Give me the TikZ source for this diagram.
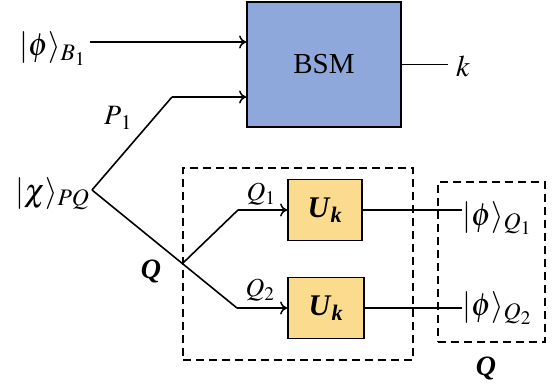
\documentclass[tikz,border=0pt]{standalone}
\usepackage{mathptmx}
\usepackage{fontspec}
\setmainfont{Liberation Serif}
\usetikzlibrary{arrows.meta}
\definecolor{bsmblue}{HTML}{8FA8DC}
\definecolor{ukyellow}{HTML}{FBDC8E}
\newcommand{\bi}[1]{\textbf{\textit{#1}}}
\begin{document}
\begin{tikzpicture}[x=1pt,y=-1pt,
  wire/.style={line width=1.6pt},
  arr/.style={wire,-{To[length=7pt,width=13pt,line width=1.5pt]}},
  box/.style={draw,line width=1.8pt,inner sep=0pt},
  dbox/.style={draw,line width=1.7pt,dash pattern=on 8pt off 5pt},
  lbl/.style={font=\fontsize{32}{36}\selectfont,inner sep=0pt},
  slbl/.style={font=\fontsize{28}{30}\selectfont,inner sep=0pt}]
\useasboundingbox (0,0) rectangle (559,390);
% BSM
\node[box,fill=bsmblue,minimum width=154pt,minimum height=125pt,font=\fontsize{29}{32}\selectfont] (bsm) at (324,64.5) {BSM};
% Uk boxes
\node[box,fill=ukyellow,minimum width=74pt,minimum height=61pt,font=\fontsize{30}{34}\selectfont] (uk1) at (325,210) {\bi{U}\textsubscript{\bi{k}}};
\node[box,fill=ukyellow,minimum width=76pt,minimum height=61pt,font=\fontsize{30}{34}\selectfont] (uk2) at (326,308) {\bi{U}\textsubscript{\bi{k}}};
% dashed boxes
\node[dbox,minimum width=230pt,minimum height=192pt,inner sep=0pt] (d1) at (298,264) {};
\node[dbox,minimum width=107pt,minimum height=160pt,inner sep=0pt] (d2) at (491.5,262) {};
% labels
\node[lbl,anchor=base west] (phib) at (19,56) {$|\phi\rangle_{B_1}$};
\node[lbl,anchor=base west] (chi) at (15,201) {$|\chi\rangle_{PQ}$};
\node[slbl] (p1l) at (118,118) {$P_{\mkern3mu1}$};
\node[slbl] (ql) at (151,271) {\bi{Q}};
\node[slbl,font=\fontsize{26}{30}\selectfont] (q1l) at (261,194) {$Q_1$};
\node[slbl,font=\fontsize{26}{30}\selectfont] (q2l) at (260,290) {$Q_2$};
\node[slbl,font=\fontsize{30}{32}\selectfont,anchor=base west] (k) at (456,77) {$k$};
\node[lbl,anchor=base west] (o1) at (462,225) {$|\phi\rangle_{Q_1}$};
\node[lbl,anchor=base west] (o2) at (462,315) {$|\phi\rangle_{Q_2}$};
\node[slbl] (qb) at (486,368) {\bi{Q}};
% coordinates
\coordinate (a) at (90,42);
\coordinate (p1) at (172,97);
\coordinate (v) at (92,190);
\coordinate (sp) at (183,263);
\coordinate (c1) at (238,210);
\coordinate (c2) at (237,308);
\coordinate (kend) at (448,64.5);
% connectors
\draw[arr] (a) -- (a -| bsm.west);
\draw[wire] (v) -- (p1);
\draw[arr] (p1) -- (p1 -| bsm.west);
\draw[wire] (bsm.east) -- (kend);
\draw[wire] (v) -- (c2);
\draw[arr] (c2) -- (uk2.west);
\draw[wire] (sp) -- (c1);
\draw[arr] (c1) -- (uk1.west);
\draw[wire] (uk1.east) -- (o1.west |- uk1.east);
\draw[wire] (uk2.east) -- (o2.west |- uk2.east);
\end{tikzpicture}
\end{document}
